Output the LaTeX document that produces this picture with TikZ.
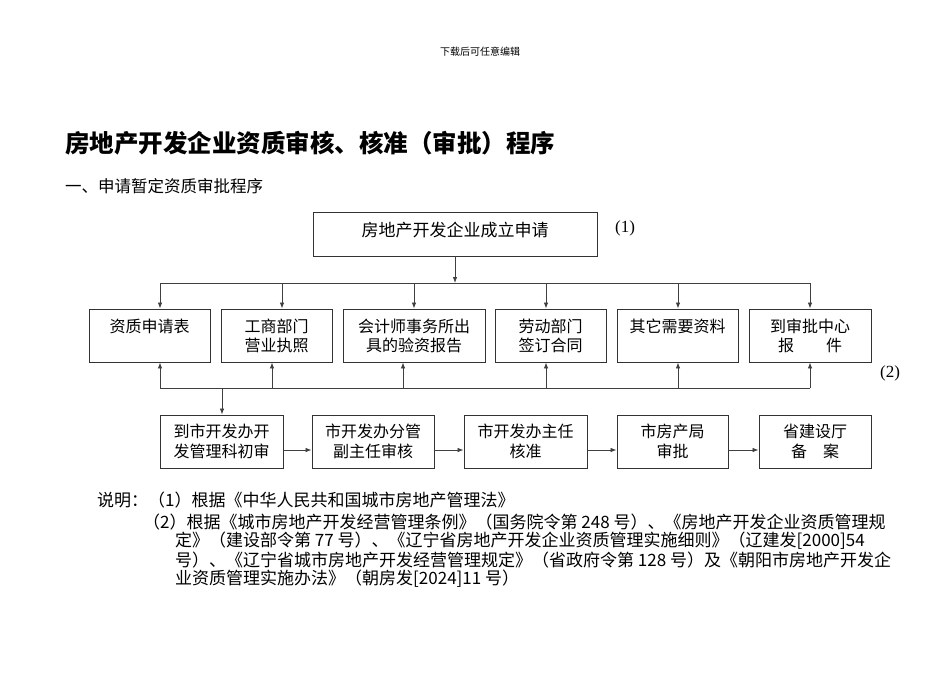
\documentclass[tikz,border=0pt]{standalone}
\usepackage{fontspec}
\setmainfont{Noto Sans CJK SC}
\newfontfamily\tnr{Liberation Serif}
\usetikzlibrary{arrows.meta}

\begin{document}
\begin{tikzpicture}[x=1pt,y=-1pt,%
>={Latex[length=6pt,width=4.5pt]},
% common options for the boxes:
box/.style = {draw=black!80, line width=0.9pt, align=center, inner sep=0,
            minimum height=53pt, font=\fontsize{16}{19}\selectfont},
% common options for the connectors:
link/.style = {draw=black!75, line width=0.8pt},
% common options for the notes:
note/.style = {anchor=west, inner sep=0, font=\fontsize{17}{17}\selectfont}]
\useasboundingbox (0,0) rectangle (950,672);
\node[font=\fontsize{10}{10}\selectfont] (hdr) at (480,52) {下载后可任意编辑};
\node[anchor=west,inner sep=0,font=\bfseries\fontsize{24.5}{24.5}\selectfont] (title) at (65,143) {房地产开发企业资质审核、核准（审批）程序};
\node[anchor=west,inner sep=0,font=\fontsize{16.5}{16.5}\selectfont] (sub) at (65,186) {一、申请暂定资质审批程序};
\node[box,minimum width=284pt,minimum height=44pt,font=\fontsize{17}{17}\selectfont] (A0) at (455,234) {房地产开发企业成立申请\\[-8pt]\mbox{}};
\node[font=\tnr\fontsize{17}{17}\selectfont] (n1) at (625,228) {(1)};
\node[box,minimum width=121pt] (B1) at (149.5,335.5) {资质申请表\\\mbox{}};
\node[box,minimum width=111pt] (B2) at (276.5,335.5) {工商部门\\营业执照};
\node[box,minimum width=142pt] (B3) at (414,335.5) {会计师事务所出\\具的验资报告};
\node[box,minimum width=111pt] (B4) at (550.5,335.5) {劳动部门\\签订合同};
\node[box,minimum width=121pt] (B5) at (677.5,335.5) {其它需要资料\\\mbox{}};
\node[box,minimum width=122pt] (B6) at (810,335.5) {到审批中心\\报　　件};
\node[font=\tnr\fontsize{17}{17}\selectfont] (n2) at (890,373) {(2)};
\node[box,minimum width=123pt,font=\fontsize{16}{20}\selectfont] (C1) at (221.5,441.5) {到市开发办开\\发管理科初审};
\node[box,minimum width=122pt,font=\fontsize{16}{20}\selectfont] (C2) at (373,441.5) {市开发办分管\\副主任审核};
\node[box,minimum width=123pt,font=\fontsize{16}{20}\selectfont] (C3) at (525.5,441.5) {市开发办主任\\核准};
\node[box,minimum width=111pt,font=\fontsize{16}{20}\selectfont] (C4) at (672.5,441.5) {市房产局\\审批};
\node[box,minimum width=112pt,font=\fontsize{16}{20}\selectfont] (C5) at (815,441.5) {省建设厅\\备　案};
% branch points
\coordinate (t0) at (455,283);
\coordinate (t1) at (160,283);
\coordinate (t2) at (282,283);
\coordinate (t3) at (414,283);
\coordinate (t4) at (546,283);
\coordinate (t5) at (678,283);
\coordinate (t6) at (810,283);
\coordinate (u1) at (160,388);
\coordinate (u2) at (272,388);
\coordinate (u3) at (403,388);
\coordinate (u4) at (546,388);
\coordinate (u5) at (678,388);
\coordinate (u6) at (810,388);
\coordinate (d0) at (222,388);
\draw[link,->] (A0) -- (t0);
\draw[link] (t1) -- (t6);
\draw[link,->] (t1) -- (t1 |- B1.north);
\draw[link,->] (t2) -- (t2 |- B2.north);
\draw[link,->] (t3) -- (t3 |- B3.north);
\draw[link,->] (t4) -- (t4 |- B4.north);
\draw[link,->] (t5) -- (t5 |- B5.north);
\draw[link,->] (t6) -- (t6 |- B6.north);
\draw[link] (u1) -- (u6);
\draw[link,->] (u1) -- (u1 |- B1.south);
\draw[link,->] (u2) -- (u2 |- B2.south);
\draw[link,->] (u3) -- (u3 |- B3.south);
\draw[link,->] (u4) -- (u4 |- B4.south);
\draw[link,->] (u5) -- (u5 |- B5.south);
\draw[link,->] (u6) -- (u6 |- B6.south);
\draw[link,->] (d0) -- (d0 |- C1.north);
\draw[link,->] ([yshift=-8.5pt]C1.east) -- ([yshift=-8.5pt]C2.west);
\draw[link,->] ([yshift=-8.5pt]C2.east) -- ([yshift=-8.5pt]C3.west);
\draw[link,->] ([yshift=-8.5pt]C3.east) -- ([yshift=-8.5pt]C4.west);
\draw[link,->] ([yshift=-8.5pt]C4.east) -- ([yshift=-8.5pt]C5.west);
\node[note] (L1) at (97,500) {说明：（1）根据《中华人民共和国城市房地产管理法》};
\node[note] (L2) at (143,522) {（2）根据《城市房地产开发经营管理条例》（国务院令第 248 号）、《房地产开发企业资质管理规};
\node[note] (L3) at (175,541) {定》（建设部令第 77 号）、《辽宁省房地产开发企业资质管理实施细则》（辽建发[2000]54};
\node[note] (L4) at (175,560) {号）、《辽宁省城市房地产开发经营管理规定》（省政府令第 128 号）及《朝阳市房地产开发企};
\node[note] (L5) at (175,579) {业资质管理实施办法》（朝房发[2024]11 号）};
\end{tikzpicture}
\end{document}
